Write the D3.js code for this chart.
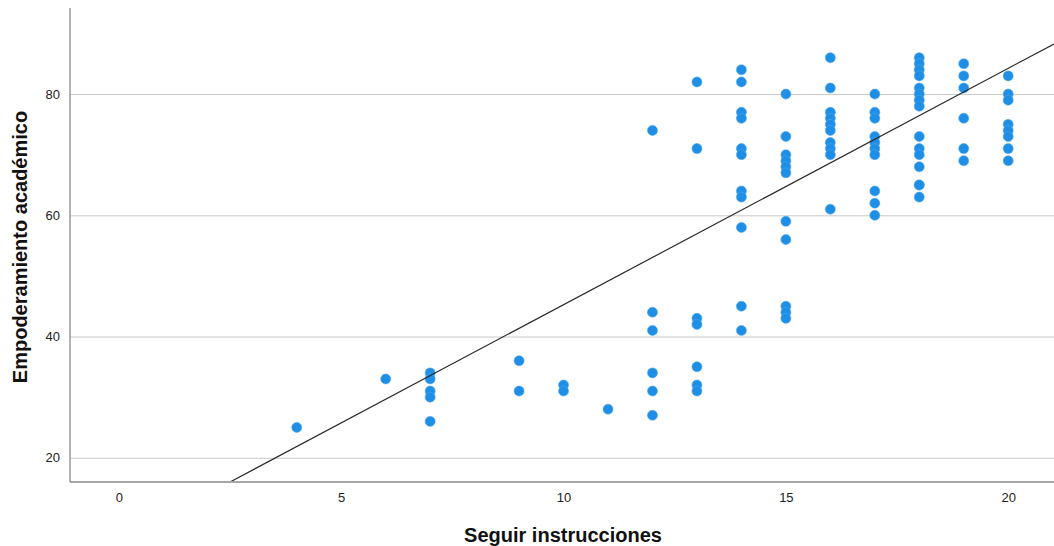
<!DOCTYPE html>
<html>
<head>
<meta charset="utf-8">
<script src="https://cdn.jsdelivr.net/npm/d3@7/dist/d3.min.js"></script>
<style>
  html, body { margin: 0; padding: 0; background: #fff; }
  svg { display: block; font-family: "Liberation Sans", Arial, sans-serif; }
</style>
</head>
<body>
<svg id="chart" width="1054" height="546"></svg>
<script>
// Seguir instrucciones (x) values
const xValues = [
  4,
  6,
  7, 7, 7, 7, 7,
  9, 9,
  10, 10,
  11,
  12, 12, 12, 12, 12, 12,
  13, 13, 13, 13, 13, 13, 13,
  14, 14, 14, 14, 14, 14, 14, 14, 14, 14, 14,
  15, 15, 15, 15, 15, 15, 15, 15, 15, 15, 15,
  16, 16, 16, 16, 16, 16, 16, 16, 16, 16,
  17, 17, 17, 17, 17, 17, 17, 17, 17, 17,
  18, 18, 18, 18, 18, 18, 18, 18, 18, 18, 18, 18, 18, 18, 18,
  19, 19, 19, 19, 19, 19,
  20, 20, 20, 20, 20, 20, 20, 20
];
// Empoderamiento académico (y) values
const yValues = [
  25,
  33,
  34, 33, 31, 30, 26,
  36, 31,
  32, 31,
  28,
  74, 44, 41, 34, 31, 27,
  82, 71, 43, 42, 35, 32, 31,
  84, 82, 77, 76, 71, 70, 64, 63, 58, 45, 41,
  80, 73, 70, 69, 68, 67, 59, 56, 45, 44, 43,
  86, 81, 77, 76, 75, 74, 72, 71, 70, 61,
  80, 77, 76, 73, 72, 71, 70, 64, 62, 60,
  86, 85, 84, 83, 81, 80, 79, 78, 73, 71, 70, 68, 65, 65, 63,
  85, 83, 81, 76, 71, 69,
  83, 80, 79, 75, 74, 73, 71, 69
];
const xTicks = [0, 5, 10, 15, 20];
const yTicks = [20, 40, 60, 80];
const xDomain = [-1.1, 21.03];
const yDomain = [16, 94.2];
// fit line: y = intercept + slope * x
const fitIntercept = 6.25;
const fitSlope = 3.90;
const xTitle = "Seguir instrucciones";
const yTitle = "Empoderamiento académico";

const svg = d3.select("#chart");
const pLeft = 70, pRight = 1054, pTop = 8, pBottom = 482;

const x = d3.scaleLinear().domain(xDomain).range([pLeft, pRight]);
const y = d3.scaleLinear().domain(yDomain).range([pBottom, pTop]);

// gridlines
const yAxis = d3.axisLeft(y).tickValues(yTicks).tickSize(-(pRight - pLeft)).tickPadding(10).tickFormat(d3.format("d"));
const gy = svg.append("g").attr("transform", `translate(${pLeft},0)`).call(yAxis);
gy.select(".domain").remove();
gy.selectAll(".tick line").attr("stroke", "#c9c9c9").attr("stroke-width", 1);
gy.selectAll(".tick text").attr("fill", "#222").style("font-size", "13px");

const xAxis = d3.axisBottom(x).tickValues(xTicks).tickSize(0).tickPadding(11).tickFormat(d3.format("d"));
const gx = svg.append("g").attr("transform", `translate(0,${pBottom})`).call(xAxis);
gx.select(".domain").remove();
gx.selectAll(".tick text").attr("fill", "#222").style("font-size", "13px");

// axis lines
svg.append("line").attr("x1", pLeft).attr("x2", pLeft).attr("y1", pTop).attr("y2", pBottom)
  .attr("stroke", "#8a8a8a").attr("stroke-width", 1.3);
svg.append("line").attr("x1", pLeft).attr("x2", pRight).attr("y1", pBottom).attr("y2", pBottom)
  .attr("stroke", "#8a8a8a").attr("stroke-width", 1.3);

// clip
svg.append("clipPath").attr("id", "plotclip").append("rect")
  .attr("x", pLeft + 1).attr("y", pTop).attr("width", pRight - pLeft).attr("height", pBottom - pTop - 1);

// points
const pts = xValues.map((v, i) => ({ x: v, y: yValues[i] }));
svg.append("g").selectAll("circle").data(pts).join("circle")
  .attr("cx", d => x(d.x)).attr("cy", d => y(d.y)).attr("r", 5)
  .attr("fill", "#1f8fe6").attr("stroke", "#4aa6ee").attr("stroke-width", 0.6);

// fit line
const lx0 = 0, lx1 = xDomain[1];
svg.append("line").attr("clip-path", "url(#plotclip)")
  .attr("x1", x(lx0)).attr("y1", y(fitIntercept + fitSlope * lx0))
  .attr("x2", x(lx1)).attr("y2", y(fitIntercept + fitSlope * lx1))
  .attr("stroke", "#2a2a2a").attr("stroke-width", 1.2);

// titles
svg.append("text").attr("x", 563).attr("y", 542).attr("text-anchor", "middle")
  .style("font-size", "20px").style("font-weight", "bold").attr("fill", "#111").text(xTitle);
svg.append("text").attr("transform", "translate(27,247) rotate(-90)").attr("text-anchor", "middle")
  .style("font-size", "20px").style("font-weight", "bold").attr("fill", "#111").text(yTitle);
</script>
</body>
</html>
